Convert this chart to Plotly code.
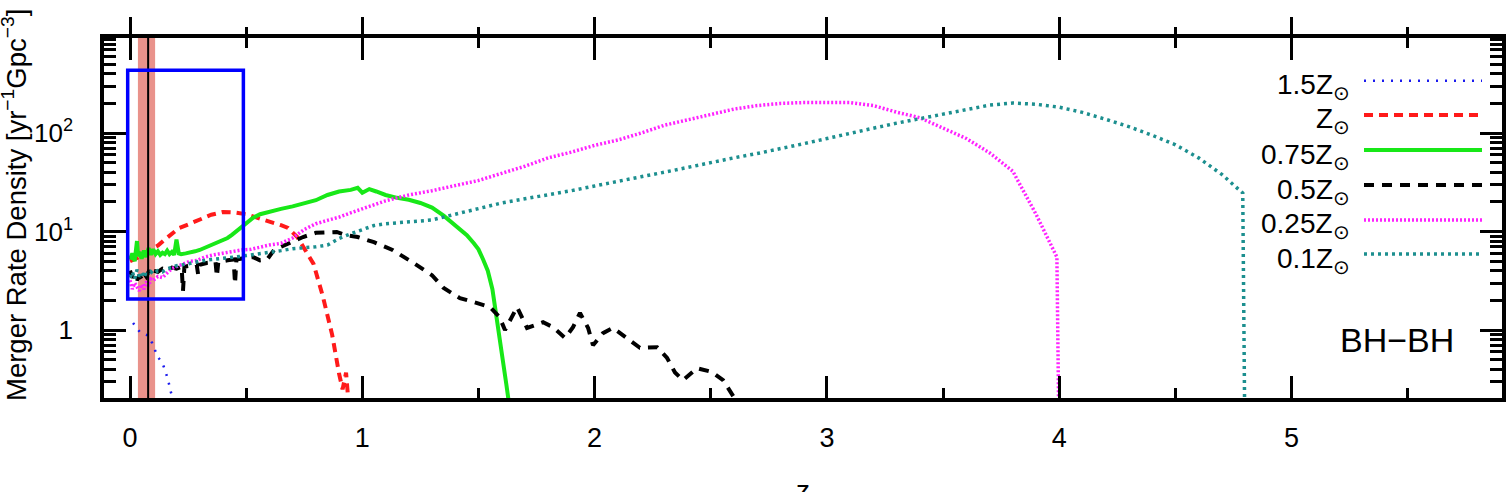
import plotly.graph_objects as go

# ---------------- data ----------------
z_15 = [0.013, 0.043, 0.073, 0.095, 0.12, 0.138, 0.151, 0.164, 0.176, 0.186]
r_15 = [1.18, 0.95, 0.89, 0.74, 0.53, 0.47, 0.39, 0.31, 0.234, 0.19]

z_10 = [0.00, 0.03, 0.06, 0.09, 0.12, 0.15, 0.18, 0.21, 0.25, 0.30, 0.35, 0.40, 0.45, 0.50,
        0.55, 0.60, 0.65, 0.68, 0.72, 0.75, 0.79, 0.83, 0.87, 0.90, 0.915, 0.93, 0.94]
r_10 = [5.0, 5.4, 6.0, 6.6, 7.2, 8.3, 9.5, 10.8, 11.8, 13.2, 14.8, 15.8, 15.6, 15.0,
        13.9, 12.6, 11.6, 10.9, 8.8, 6.8, 4.7, 2.2, 0.9, 0.36, 0.25, 0.37, 0.19]

z_075 = [0.00, 0.01, 0.02, 0.03, 0.035, 0.04, 0.05, 0.06, 0.07, 0.08, 0.09, 0.10, 0.11, 0.12,
         0.13, 0.14, 0.15, 0.16, 0.17, 0.18, 0.19, 0.20, 0.21, 0.22, 0.24, 0.26, 0.28, 0.30,
         0.32, 0.34, 0.36, 0.38, 0.40, 0.42, 0.44, 0.46, 0.48, 0.50, 0.53, 0.56, 0.60, 0.65,
         0.70, 0.75, 0.80, 0.85, 0.90, 0.95, 0.98, 1.00, 1.03, 1.06, 1.10, 1.15, 1.20, 1.25,
         1.30, 1.35, 1.40, 1.45, 1.48, 1.50, 1.52, 1.54, 1.56, 1.58, 1.60, 1.62, 1.63]
r_075 = [5.2, 6.0, 5.0, 8.0, 5.6, 6.2, 5.3, 6.4, 5.5, 6.8, 5.8, 6.6, 5.9, 6.3,
         5.8, 6.1, 5.9, 6.4, 5.9, 6.2, 5.8, 8.3, 6.0, 5.9, 6.0, 6.1, 6.3, 6.5,
         6.8, 7.0, 7.5, 7.8, 8.2, 8.6, 9.3, 10.2, 11.0, 12.0, 13.8, 15.0, 16.0, 17.0,
         18.0, 19.5, 20.8, 23.5, 25.5, 26.5, 27.8, 24.8, 27.0, 25.5, 23.5, 22.0, 21.0, 19.5,
         17.5, 14.5, 11.5, 9.2, 7.6, 6.6, 5.2, 4.0, 2.6, 1.3, 0.6, 0.28, 0.19]

z_05 = [0.00, 0.01, 0.02, 0.03, 0.04, 0.05, 0.06, 0.07, 0.08, 0.09, 0.10, 0.12, 0.14, 0.16,
        0.18, 0.20, 0.222, 0.228, 0.234, 0.26, 0.287, 0.293, 0.299, 0.33, 0.368, 0.374, 0.38,
        0.42, 0.446, 0.452, 0.458, 0.50, 0.53, 0.56, 0.59, 0.62, 0.66, 0.70, 0.745, 0.80,
        0.85, 0.89, 0.93, 0.98, 1.05, 1.13, 1.22, 1.30, 1.35, 1.42, 1.48, 1.55, 1.59, 1.614,
        1.666, 1.709, 1.778, 1.821, 1.873, 1.907, 1.937, 1.972, 1.993, 2.036, 2.079, 2.14,
        2.195, 2.269, 2.312, 2.346, 2.381, 2.441, 2.505, 2.553, 2.592, 2.61]
r_05 = [4.0, 3.4, 3.7, 3.2, 3.6, 3.3, 3.8, 3.5, 3.9, 3.6, 4.0, 3.9, 4.2, 4.1,
        4.3, 4.2, 4.4, 2.5, 4.4, 4.5, 4.6, 3.7, 4.6, 4.8, 4.9, 3.5, 4.9,
        5.1, 5.2, 2.95, 5.2, 5.4, 5.5, 5.1, 5.2, 6.5, 7.2, 7.8, 8.8, 9.7,
        9.9, 9.9, 9.2, 8.8, 7.8, 6.5, 4.8, 3.6, 2.67, 2.11, 1.92, 1.71, 1.36, 1.0,
        1.71, 1.05, 1.2, 1.07, 0.83, 1.07, 1.49, 1.05, 0.70, 0.93, 1.05, 0.83,
        0.66, 0.67, 0.52, 0.37, 0.31, 0.41, 0.375, 0.31, 0.22, 0.19]

z_025 = [0.00, 0.01, 0.02, 0.03, 0.04, 0.05, 0.06, 0.07, 0.08, 0.09, 0.10, 0.12, 0.14, 0.16,
         0.18, 0.20, 0.23, 0.26, 0.29, 0.32, 0.36, 0.40, 0.44, 0.48, 0.52, 0.56, 0.60, 0.65,
         0.70, 0.75, 0.80, 0.85, 0.90, 0.95, 1.00, 1.05, 1.10, 1.15, 1.20, 1.30, 1.40, 1.50,
         1.60, 1.70, 1.80, 1.90, 2.00, 2.10, 2.20, 2.30, 2.40, 2.50, 2.60, 2.70, 2.80, 2.90,
         3.00, 3.10, 3.20, 3.30, 3.40, 3.50, 3.60, 3.70, 3.80, 3.90, 3.99, 4.00]
r_025 = [3.2, 2.6, 3.0, 2.7, 2.5, 2.9, 2.6, 3.1, 2.8, 3.3, 3.2, 3.5, 3.4, 3.8,
         4.2, 4.4, 4.7, 5.0, 5.1, 5.5, 5.8, 6.0, 6.3, 6.5, 6.6, 7.0, 7.3, 7.6,
         8.6, 10.5, 12.0, 13.0, 14.0, 15.5, 17.0, 18.5, 20.5, 22.0, 23.5, 26.0, 29.0, 33.0,
         39.0, 46.0, 56.0, 64.0, 75.0, 85.0, 100.0, 120.0, 136.0, 155.0, 175.0, 190.0, 200.0, 204.0,
         206.0, 204.0, 190.0, 163.0, 143.0, 113.0, 88.0, 63.0, 41.0, 15.0, 5.5, 0.05]

z_01 = [0.00, 0.01, 0.02, 0.03, 0.04, 0.05, 0.06, 0.07, 0.08, 0.09, 0.10, 0.12, 0.14, 0.16,
        0.18, 0.20, 0.25, 0.30, 0.35, 0.40, 0.45, 0.50, 0.55, 0.60, 0.65, 0.70, 0.75, 0.80,
        0.85, 0.90, 0.95, 1.00, 1.05, 1.10, 1.20, 1.30, 1.40, 1.50, 1.60, 1.70, 1.80, 1.90,
        2.00, 2.10, 2.20, 2.30, 2.40, 2.50, 2.60, 2.70, 2.80, 2.90, 3.00, 3.10, 3.20, 3.30,
        3.40, 3.50, 3.60, 3.70, 3.80, 3.90, 4.00, 4.10, 4.20, 4.30, 4.40, 4.50, 4.60, 4.70,
        4.79, 4.80]
r_01 = [3.4, 3.9, 3.3, 4.1, 3.5, 3.8, 3.4, 4.0, 3.6, 3.9, 3.7, 4.0, 3.9, 4.2,
        4.3, 4.5, 4.7, 5.0, 5.2, 5.4, 5.5, 5.7, 5.9, 6.1, 6.4, 6.7, 6.8, 7.0,
        7.3, 8.5, 9.5, 10.5, 11.5, 12.0, 12.6, 13.1, 15.0, 17.0, 19.5, 21.5, 23.5, 26.0,
        29.0, 32.0, 36.0, 40.0, 45.0, 50.0, 56.0, 62.0, 69.0, 78.0, 88.0, 100.0, 112.0, 126.0,
        140.0, 156.0, 175.0, 192.0, 202.0, 196.0, 183.0, 162.0, 138.0, 116.0, 95.0, 76.0, 56.0, 38.0,
        24.6, 0.05]

series_names = ["1.5Z<sub>⊙</sub>", "Z<sub>⊙</sub>", "0.75Z<sub>⊙</sub>",
                "0.5Z<sub>⊙</sub>", "0.25Z<sub>⊙</sub>", "0.1Z<sub>⊙</sub>"]

band_z = [0.034, 0.108]       # shaded redshift band
line_z = 0.078                # vertical marker
box_z = [-0.01, 0.488]        # blue box, redshift extent
box_r = [2.06, 435.0]         # blue box, rate extent

x_tick_vals = [0, 1, 2, 3, 4, 5]
x_tick_text = ["0", "1", "2", "3", "4", "5"]
x_half_vals = [0.5, 1.5, 2.5, 3.5, 4.5, 5.5]
y_tick_vals = [1, 10, 100]
y_tick_text = ["1", "10<sup>1</sup>", "10<sup>2</sup>"]
y_minor_vals = [0.2, 0.3, 0.4, 0.5, 0.6, 0.7, 0.8, 0.9,
                2, 3, 4, 5, 6, 7, 8, 9,
                20, 30, 40, 50, 60, 70, 80, 90,
                200, 300, 400, 500, 600, 700, 800, 900]

# ---------------- styles ----------------
styles = [
    dict(color="#1a1aee", width=2.5, dash="2px,7px"),
    dict(color="#ff1a1a", width=4, dash="9px,6px"),
    dict(color="#18e818", width=4, dash="solid"),
    dict(color="#000000", width=4, dash="10px,8px"),
    dict(color="#ff22ff", width=3.5, dash="2px,2px"),
    dict(color="#1c8f8f", width=3.5, dash="3px,4px"),
]
xs = [z_15, z_10, z_075, z_05, z_025, z_01]
ys = [r_15, r_10, r_075, r_05, r_025, r_01]

FONT = "Liberation Sans, Arial, Helvetica, sans-serif"
W, H = 1512, 492
L, R, T, B = 104, 10, 38, 94
PW, PH = W - L - R, H - T - B
XR = [-0.112, 5.906]


def px(xp):
    return (xp - L) / PW


def py(yp):
    return (H - B - yp) / PH


fig = go.Figure()
for x, y, st, nm in zip(xs, ys, styles, series_names):
    fig.add_trace(go.Scatter(x=x, y=y, mode="lines", name=nm, line=st,
                             showlegend=False, hoverinfo="skip"))

# invisible helper traces so the top tick axes are drawn
for ax in ("x2", "x3"):
    fig.add_trace(go.Scatter(x=[0], y=[1], xaxis=ax, mode="markers",
                             marker=dict(opacity=0), showlegend=False, hoverinfo="skip"))

shapes = [
    dict(type="rect", xref="x", yref="paper", x0=band_z[0], x1=band_z[1], y0=0, y1=1,
         fillcolor="rgba(226,110,100,0.75)", line=dict(width=0), layer="below"),
    dict(type="line", xref="x", yref="paper", x0=line_z, x1=line_z, y0=0, y1=1,
         line=dict(color="black", width=2)),
    dict(type="rect", xref="x", yref="y", x0=box_z[0], x1=box_z[1], y0=box_r[0], y1=box_r[1],
         line=dict(color="#0000ff", width=3.5)),
]

annotations = []
leg_y = [80.7, 115, 150, 185, 220, 254]
for i, (nm, st) in enumerate(zip(series_names, styles)):
    yy = py(leg_y[i])
    shapes.append(dict(type="line", xref="paper", yref="paper", x0=px(1364), x1=px(1482),
                       y0=yy, y1=yy, line=st))
    annotations.append(dict(text=nm, xref="paper", yref="paper", x=px(1352), y=py(leg_y[i] + 6),
                            xanchor="right", yanchor="middle", showarrow=False,
                            font=dict(family=FONT, size=28, color="black")))

annotations.append(dict(text="BH−BH", xref="paper", yref="paper", x=px(1397), y=py(340),
                        xanchor="center", yanchor="middle", showarrow=False,
                        font=dict(family=FONT, size=34, color="black")))
annotations.append(dict(text="Merger Rate Density [yr<sup>−1</sup>Gpc<sup>−3</sup>]",
                        xref="paper", yref="paper", x=px(14), y=py(205), textangle=-90,
                        xanchor="center", yanchor="middle", showarrow=False,
                        font=dict(family=FONT, size=27.5, color="black")))
annotations.append(dict(text="z", xref="paper", yref="paper", x=px(803), y=py(490),
                        xanchor="center", yanchor="middle", showarrow=False,
                        font=dict(family=FONT, size=28, color="black")))

tick_common = dict(showgrid=False, zeroline=False, tickcolor="black", tickwidth=2.5)

fig.update_layout(
    width=W, height=H, margin=dict(l=L, r=R, t=T, b=B, autoexpand=False),
    paper_bgcolor="white", plot_bgcolor="white",
    font=dict(family=FONT, size=26, color="black"),
    shapes=shapes, annotations=annotations, showlegend=False,
    xaxis=dict(range=XR, tickmode="array", tickvals=x_tick_vals,
               ticktext=x_tick_text, ticks="inside", ticklen=22, mirror="ticks",
               showline=True, linecolor="black", linewidth=3.5, ticklabelstandoff=13,
               tickfont=dict(family=FONT, size=27),
               minor=dict(ticks="inside", ticklen=10, tickmode="array", tickvals=x_half_vals,
                          tickcolor="black", tickwidth=2.5),
               **tick_common),
    xaxis2=dict(range=XR, overlaying="x", side="top", tickmode="array",
                tickvals=x_tick_vals, ticks="outside", ticklen=20, showticklabels=False,
                showline=False, **tick_common),
    xaxis3=dict(range=XR, overlaying="x", side="top", tickmode="array",
                tickvals=x_half_vals, ticks="outside", ticklen=10, showticklabels=False,
                showline=False, **tick_common),
    yaxis=dict(type="log", range=[-0.69, 2.965], tickmode="array", tickvals=y_tick_vals,
               ticktext=y_tick_text, ticks="inside", ticklen=22, mirror="ticks",
               showline=True, linecolor="black", linewidth=3.5, ticklabelstandoff=22,
               tickfont=dict(family=FONT, size=26),
               minor=dict(ticks="inside", ticklen=12, tickmode="array", tickvals=y_minor_vals,
                          tickcolor="black", tickwidth=2.5),
               **tick_common),
)

fig.write_html("out.html")
